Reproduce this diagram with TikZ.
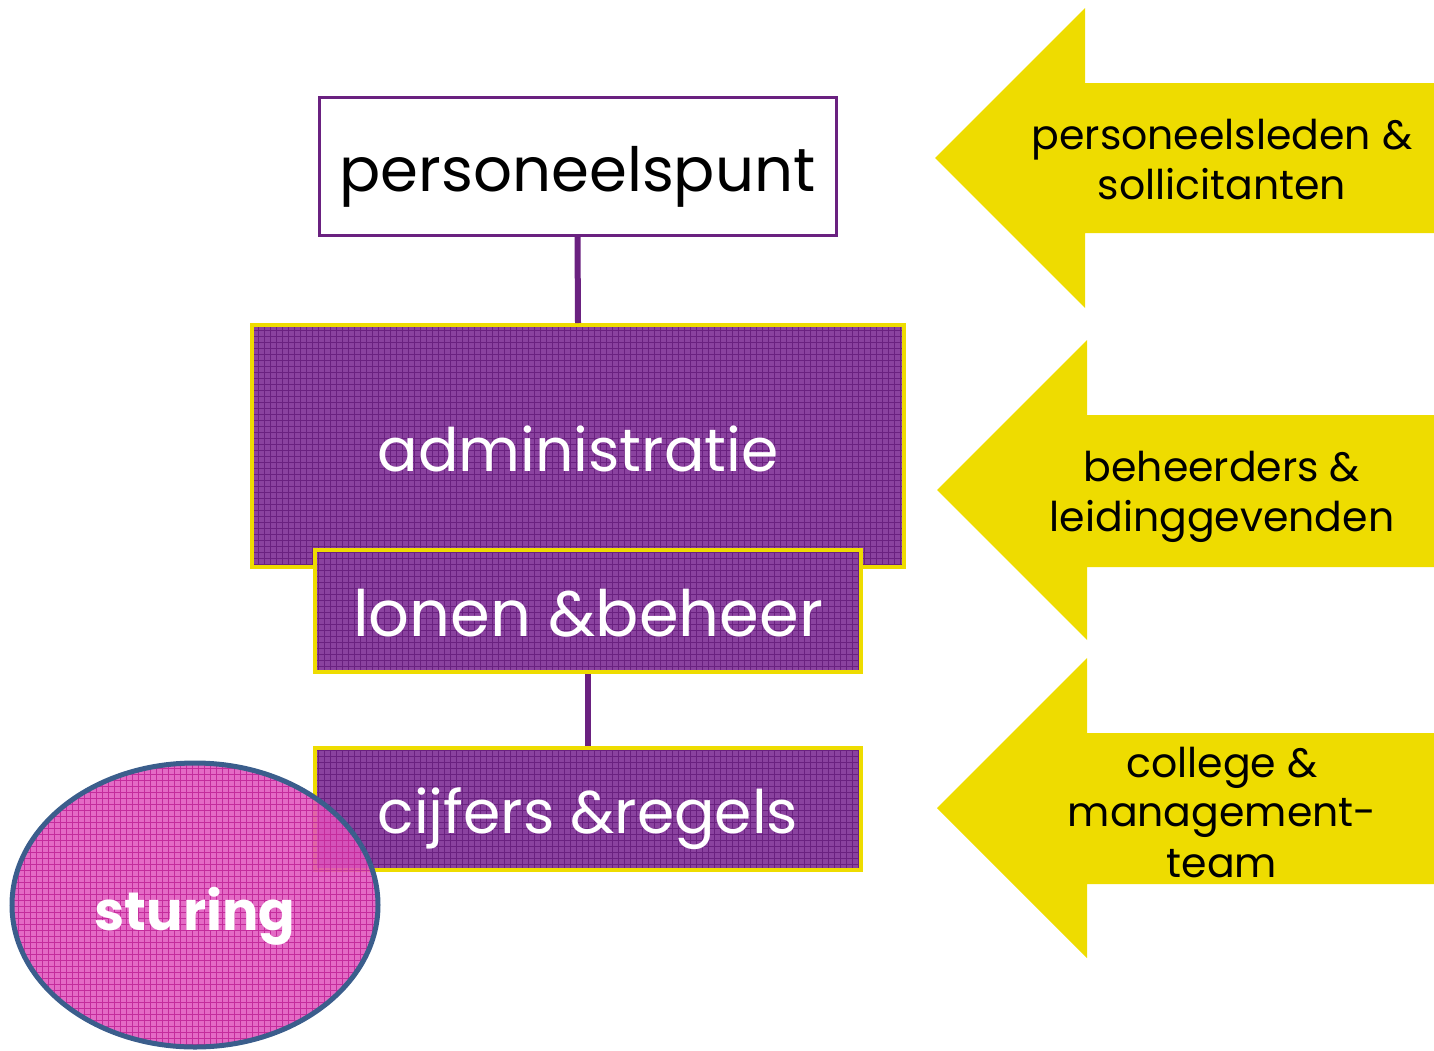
\documentclass[tikz,border=0pt]{standalone}
\usepackage{fontspec}
\setmainfont{Poppins}
\usetikzlibrary{patterns,shapes.geometric}

\definecolor{paars}{HTML}{8A429F}
\definecolor{donkerpaars}{HTML}{6A2180}
\definecolor{lijnpaars}{HTML}{6A2180}
\definecolor{geel}{HTML}{EEDC00}
\definecolor{roze}{HTML}{E055BD}
\definecolor{donkerroze}{HTML}{C42C9C}
\definecolor{randblauw}{HTML}{3B5E8C}

\begin{document}
\begin{tikzpicture}[x=0.5pt,y=-0.5pt,
    vak/.style={draw=geel, line width=2pt, text=white, inner sep=0pt,
        text height=29pt, text depth=4pt,
        preaction={fill=paars},
        preaction={pattern=grid, pattern color=donkerpaars}},
    pijltekst/.style={align=center, font=\fontsize{20.5}{25}\selectfont}]
    \useasboundingbox (0,0) rectangle (1434,1050);

    % pijlen rechts
    \fill[geel] (935,158) -- (1085,8) -- (1085,83) -- (1434,83) -- (1434,233) -- (1085,233) -- (1085,308) -- cycle;
    \fill[geel] (937,490) -- (1087,340) -- (1087,415) -- (1434,415) -- (1434,567) -- (1087,567) -- (1087,640) -- cycle;
    \fill[geel] (937,808) -- (1087,658) -- (1087,733) -- (1434,733) -- (1434,884) -- (1087,884) -- (1087,958) -- cycle;
    \node[pijltekst] (leden) at (1222,160) {personeelsleden \&\\sollicitanten};
    \node[pijltekst] (beheerders) at (1222,497) {beheerders \&\\leidinggevenden};
    \node[pijltekst] (college) at (1222,812) {college \&\\management-\\team};

    % blokken
    \node[draw=lijnpaars, line width=1.5pt, fill=white, inner sep=0pt,
        minimum width=258.5pt, minimum height=69pt, text height=29pt, text depth=4pt,
        font=\fontsize{30.5}{30.5}\selectfont] (punt) at (577.5,166) {personeelspunt};
    \node[vak, minimum width=326pt, minimum height=121pt,
        font=\fontsize{30}{30}\selectfont] (admin) at (578,446) {administratie};
    \node[vak, minimum width=273pt, minimum height=61pt,
        font=\fontsize{32}{32}\selectfont] (lonen) at (588,611) {lonen \&beheer};
    \node[vak, minimum width=273pt, minimum height=61pt,
        font=\fontsize{30}{30}\selectfont] (cijfers) at (588,808.5) {cijfers \&regels};

    \draw[lijnpaars, line width=3pt] (punt.south) -- (admin.north);
    \draw[lijnpaars, line width=3pt] (lonen.south) -- (cijfers.north);

    \node[ellipse, draw=randblauw, line width=2.5pt, text=white, inner sep=0pt,
        minimum width=183pt, minimum height=142pt, text height=28pt, text depth=3pt,
        preaction={fill=roze, fill opacity=0.88},
        preaction={pattern=grid, pattern color=donkerroze},
        font=\fontsize{27}{27}\selectfont\bfseries] (sturing) at (195,905) {sturing};
\end{tikzpicture}
\end{document}
